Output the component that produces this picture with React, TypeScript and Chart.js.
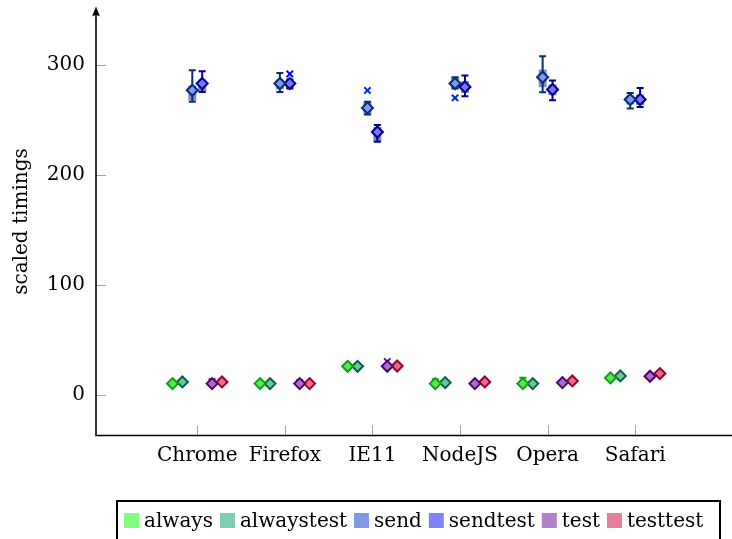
import React, { useEffect, useRef } from 'react';
import { Chart, registerables } from 'chart.js';

Chart.register(...registerables);

const categories = ['Chrome', 'Firefox', 'IE11', 'NodeJS', 'Opera', 'Safari'];
const seriesNames = ['always', 'alwaystest', 'send', 'sendtest', 'test', 'testtest'];
const yTickValues = [0, 100, 200, 300];

// mean (diamond marks)
const alwaysMean = [10.5, 10.5, 26.2, 10.5, 10.5, 15.7];
const alwaystestMean = [12.0, 10.5, 26.2, 11.4, 10.5, 17.5];
const sendMean = [276.7, 282.8, 260.7, 282.8, 288.5, 268.3];
const sendtestMean = [282.8, 282.8, 238.8, 279.7, 277.4, 268.3];
const testMean = [10.5, 10.5, 26.2, 10.5, 11.4, 17.2];
const testtestMean = [12.0, 10.5, 26.5, 12.0, 12.9, 19.6];

// box lower / upper quartiles
const alwaysQ1 = [9.5, 9.5, 25.0, 9.5, 9.5, 14.5];
const alwaysQ3 = [11.5, 11.5, 27.5, 11.5, 11.5, 17.0];
const alwaystestQ1 = [11.0, 9.5, 25.0, 10.4, 9.5, 16.5];
const alwaystestQ3 = [13.0, 11.5, 27.4, 12.4, 11.5, 18.5];
const sendQ1 = [267.4, 277.4, 254.8, 278.2, 279.5, 263.8];
const sendQ3 = [281.0, 286.4, 266.2, 288.5, 295.5, 271.9];
const sendtestQ1 = [275.2, 278.2, 230.0, 274.3, 272.2, 263.2];
const sendtestQ3 = [286.4, 286.4, 243.3, 284.9, 281.9, 272.8];
const testQ1 = [9.5, 9.5, 25.0, 9.5, 10.4, 16.2];
const testQ3 = [11.5, 11.5, 27.4, 11.5, 12.4, 18.2];
const testtestQ1 = [11.0, 9.5, 25.5, 11.0, 11.9, 18.6];
const testtestQ3 = [13.0, 11.5, 27.5, 13.0, 13.9, 20.6];

// whisker ends
const alwaysLow = [9.0, 9.0, 24.5, 9.0, 9.0, 14.0];
const alwaysHigh = [12.0, 12.0, 28.0, 14.5, 15.8, 17.5];
const alwaystestLow = [10.5, 9.0, 24.5, 10.0, 9.0, 16.0];
const alwaystestHigh = [13.5, 12.0, 27.8, 12.8, 12.0, 19.0];
const sendLow = [266.2, 275.2, 254.8, 278.2, 274.9, 260.2];
const sendHigh = [294.8, 292.4, 266.2, 288.5, 307.5, 274.3];
const sendtestLow = [275.2, 278.2, 230.0, 271.3, 267.7, 261.4];
const sendtestHigh = [293.9, 286.4, 245.1, 290.0, 285.5, 278.7];
const testLow = [9.0, 9.0, 24.5, 9.0, 10.0, 15.8];
const testHigh = [14.5, 13.5, 28.5, 12.0, 13.0, 18.6];
const testtestLow = [10.5, 9.0, 25.0, 10.5, 11.5, 18.2];
const testtestHigh = [14.5, 12.0, 28.5, 13.5, 14.4, 21.0];

// outliers: [category index, value]
const alwaysOutliers: number[][] = [];
const alwaystestOutliers: number[][] = [];
const sendOutliers = [[2, 276.5], [3, 269.8]];
const sendtestOutliers = [[1, 291.5]];
const testOutliers = [[2, 30.5]];
const testtestOutliers: number[][] = [];

const legendColors = ['#80ff80', '#80ccb3', '#809ae6', '#8080ff', '#b380cc', '#e6809a'];
const markBorder = ['#00a800', '#006446', '#0a2a7a', '#000096', '#500078', '#a00028'];
const markFill = ['#60e060', '#78bea0', '#7d9be6', '#7878f0', '#aa6ec8', '#e66e8c'];
const boxFill = ['rgba(0,180,0,0.45)', 'rgba(0,110,80,0.45)', 'rgba(0,30,120,0.5)', 'rgba(0,0,150,0.5)', 'rgba(80,0,120,0.45)', 'rgba(160,0,40,0.45)'];
const outlierColor = ['#00c000', '#007a55', '#0033cc', '#0000ff', '#660099', '#cc0033'];

const FONT = '"DejaVu Serif", serif';
const X_MIN = -0.156;
const X_MAX = 7.02;
const Y_MIN = -36.6;
const Y_MAX = 351.8;
const BOX_STEP = 0.113;

const series = [
  { mean: alwaysMean, q1: alwaysQ1, q3: alwaysQ3, low: alwaysLow, high: alwaysHigh, out: alwaysOutliers },
  { mean: alwaystestMean, q1: alwaystestQ1, q3: alwaystestQ3, low: alwaystestLow, high: alwaystestHigh, out: alwaystestOutliers },
  { mean: sendMean, q1: sendQ1, q3: sendQ3, low: sendLow, high: sendHigh, out: sendOutliers },
  { mean: sendtestMean, q1: sendtestQ1, q3: sendtestQ3, low: sendtestLow, high: sendtestHigh, out: sendtestOutliers },
  { mean: testMean, q1: testQ1, q3: testQ3, low: testLow, high: testHigh, out: testOutliers },
  { mean: testtestMean, q1: testtestQ1, q3: testtestQ3, low: testtestLow, high: testtestHigh, out: testtestOutliers },
];

const xPos = (s: number, c: number) => c + 1 + (s - 2.5) * BOX_STEP;

const boxPlugin = {
  id: 'boxWhisker',
  beforeDatasetsDraw(chart: any) {
    const { ctx, chartArea } = chart;
    const xs = chart.scales.x;
    const ys = chart.scales.y;
    ctx.save();
    // inner tick marks
    ctx.strokeStyle = '#a0a0a0';
    ctx.lineWidth = 1;
    yTickValues.forEach((v) => {
      const py = Math.round(ys.getPixelForValue(v)) + 0.5;
      ctx.beginPath();
      ctx.moveTo(chartArea.left, py);
      ctx.lineTo(chartArea.left + 10, py);
      ctx.stroke();
    });
    categories.forEach((_, i) => {
      const px = Math.round(xs.getPixelForValue(i + 1)) + 0.5;
      ctx.beginPath();
      ctx.moveTo(px, chartArea.bottom);
      ctx.lineTo(px, chartArea.bottom - 10);
      ctx.stroke();
    });
    // boxes and whiskers
    series.forEach((s, si) => {
      categories.forEach((_, ci) => {
        const px = xs.getPixelForValue(xPos(si, ci));
        const yl = ys.getPixelForValue(s.low[ci]);
        const yh = ys.getPixelForValue(s.high[ci]);
        const y1 = ys.getPixelForValue(s.q1[ci]);
        const y3 = ys.getPixelForValue(s.q3[ci]);
        ctx.fillStyle = boxFill[si];
        ctx.fillRect(px - 4, y3, 8, y1 - y3);
        ctx.strokeStyle = markBorder[si];
        ctx.lineWidth = 2;
        ctx.beginPath();
        ctx.moveTo(px, yl);
        ctx.lineTo(px, yh);
        ctx.moveTo(px - 3.5, yl);
        ctx.lineTo(px + 3.5, yl);
        ctx.moveTo(px - 3.5, yh);
        ctx.lineTo(px + 3.5, yh);
        ctx.stroke();
      });
    });
    ctx.restore();
  },
  afterDraw(chart: any) {
    const { ctx, chartArea } = chart;
    ctx.save();
    // axis lines
    ctx.strokeStyle = '#000';
    ctx.fillStyle = '#000';
    ctx.lineWidth = 1.6;
    ctx.beginPath();
    ctx.moveTo(chartArea.left, chartArea.bottom);
    ctx.lineTo(chartArea.left, chartArea.top + 6);
    ctx.moveTo(chartArea.left - 0.8, chartArea.bottom);
    ctx.lineTo(chart.width, chartArea.bottom);
    ctx.stroke();
    // arrow head
    ctx.beginPath();
    ctx.moveTo(chartArea.left, chartArea.top - 1);
    ctx.lineTo(chartArea.left - 4, chartArea.top + 9);
    ctx.quadraticCurveTo(chartArea.left, chartArea.top + 6, chartArea.left + 4, chartArea.top + 9);
    ctx.closePath();
    ctx.fill();
    // legend
    const top = 501;
    ctx.lineWidth = 2;
    ctx.strokeRect(117, top, 603, 50);
    ctx.font = '20px ' + FONT;
    ctx.textBaseline = 'alphabetic';
    ctx.textAlign = 'left';
    let x = 124;
    seriesNames.forEach((n, i) => {
      ctx.fillStyle = legendColors[i];
      ctx.fillRect(x, 513, 15, 15);
      x += 20;
      ctx.fillStyle = '#000';
      ctx.fillText(n, x, 527);
      x += ctx.measureText(n).width + 7;
    });
    ctx.restore();
  },
};

export default function App() {
  const ref = useRef<HTMLCanvasElement | null>(null);
  useEffect(() => {
    if (!ref.current) return;
    const datasets: any[] = [];
    series.forEach((s, si) => {
      datasets.push({
        type: 'scatter',
        label: seriesNames[si],
        data: s.mean.map((v, ci) => ({ x: xPos(si, ci), y: v })),
        pointStyle: 'rectRot',
        pointRadius: 5.5,
        pointBorderWidth: 2,
        pointBackgroundColor: markFill[si],
        pointBorderColor: markBorder[si],
        showLine: false,
      });
    });
    series.forEach((s, si) => {
      if (!s.out.length) return;
      datasets.push({
        type: 'scatter',
        label: seriesNames[si] + ' outliers',
        data: s.out.map(([ci, v]) => ({ x: xPos(si, ci), y: v })),
        pointStyle: 'crossRot',
        pointRadius: 4.5,
        pointBorderWidth: 2,
        pointBorderColor: outlierColor[si],
        showLine: false,
      });
    });
    const chart = new Chart(ref.current, {
      type: 'scatter',
      data: { datasets },
      plugins: [boxPlugin],
      options: {
        animation: false,
        responsive: false,
        devicePixelRatio: 1,
        layout: { padding: { left: 0, top: 6, right: 1, bottom: 63.5 } },
        plugins: { legend: { display: false }, tooltip: { enabled: false } },
        scales: {
          x: {
            type: 'linear',
            min: X_MIN,
            max: X_MAX,
            grid: { display: false, drawTicks: false },
            border: { display: false },
            afterBuildTicks: (scale: any) => {
              scale.ticks = categories.map((_, i) => ({ value: i + 1 }));
            },
            afterFit: (scale: any) => {
              scale.height = 40;
              scale.paddingLeft = 0;
              scale.paddingRight = 0;
            },
            ticks: {
              padding: 8,
              color: '#000',
              maxRotation: 0,
              autoSkip: false,
              font: { family: FONT, size: 20 },
              callback: (v: any) => categories[Math.round(Number(v)) - 1] ?? '',
            },
          },
          y: {
            type: 'linear',
            min: Y_MIN,
            max: Y_MAX,
            grid: { display: false, drawTicks: false },
            border: { display: false },
            afterBuildTicks: (scale: any) => {
              scale.ticks = yTickValues.map((v) => ({ value: v }));
            },
            afterFit: (scale: any) => {
              scale.width = 96;
              scale.paddingTop = 0;
              scale.paddingBottom = 0;
            },
            ticks: {
              padding: 11,
              color: '#000',
              font: { family: FONT, size: 20 },
              callback: (v: any) => String(v),
            },
            title: {
              display: true,
              text: 'scaled timings',
              color: '#000',
              font: { family: FONT, size: 20 },
              padding: { top: 10, bottom: 0 },
            },
          },
        },
      },
    });
    return () => chart.destroy();
  }, []);
  return (
    <div style={{ position: 'fixed', left: 0, top: 0, width: 732, height: 539, background: '#fff' }}>
      <canvas ref={ref} width={732} height={539} style={{ display: 'block' }} />
    </div>
  );
}
